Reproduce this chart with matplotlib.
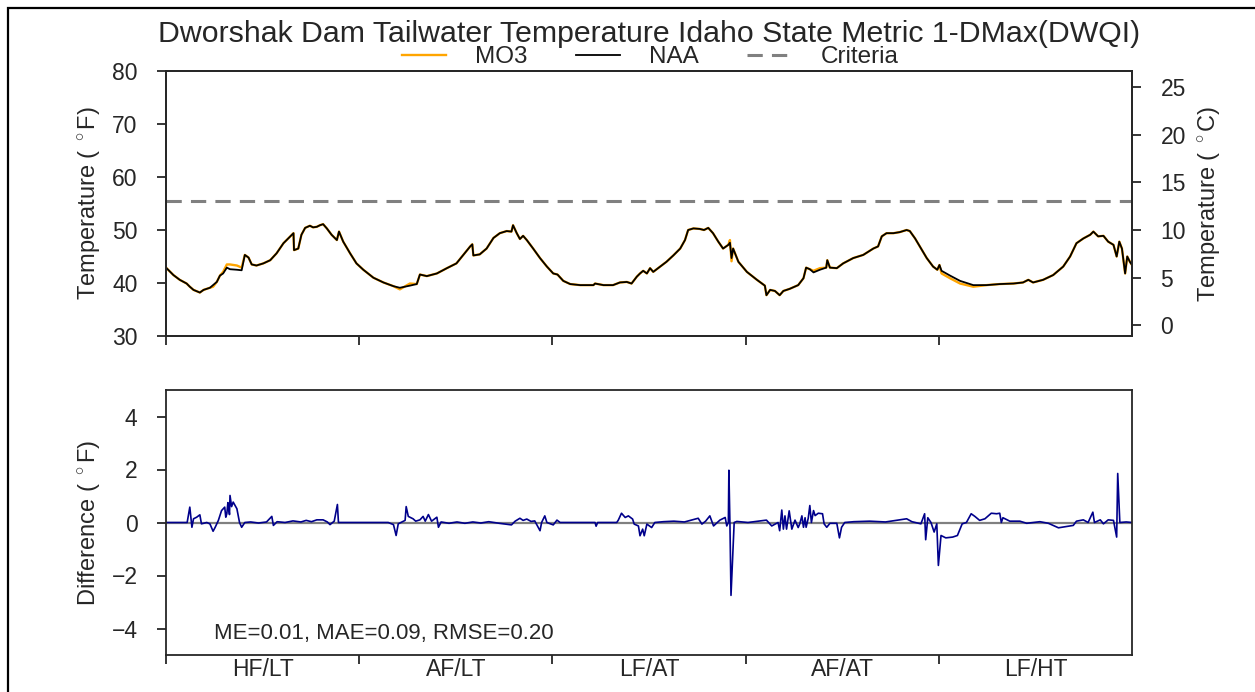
import numpy as np
import matplotlib
matplotlib.use('Agg')
import matplotlib.pyplot as plt
from matplotlib.patches import Rectangle

plt.rcParams['font.family'] = ['Liberation Sans', 'DejaVu Sans']
plt.rcParams['mathtext.fontset'] = 'custom'
plt.rcParams['mathtext.rm'] = 'Liberation Sans'
plt.rcParams['mathtext.it'] = 'Liberation Sans:italic'

TEXT = '#262626'

title = 'Dworshak Dam Tailwater Temperature Idaho State Metric 1-DMax(DWQI)'
period_labels = ['HF/LT', 'AF/LT', 'LF/AT', 'AF/AT', 'LF/HT']
total_days = 1826
criteria_f = 55.4
stats_text = 'ME=0.01, MAE=0.09, RMSE=0.20'

# NAA daily-max tailwater temperature (deg F)
naa_days = [0, 14, 26, 39, 45, 52, 64, 71, 83, 89, 96, 102, 108, 115, 121, 134, 143,
            149, 156, 162, 171, 184, 197, 209, 222, 231, 241, 242, 250, 256, 263, 272,
            278, 285, 291, 297, 304, 313, 323, 327, 335, 348, 360, 373, 392, 411, 430,
            442, 461, 474, 480, 493, 512, 531, 549, 562, 575, 579, 581, 593, 606, 619,
            631, 644, 653, 656, 663, 669, 675, 682, 694, 707, 720, 732, 740, 751, 764,
            783, 808, 811, 827, 845, 858, 871, 880, 890, 896, 902, 909, 915, 921, 934,
            946, 959, 972, 981, 987, 997, 1009, 1017, 1025, 1034, 1044, 1053, 1063,
            1066, 1069, 1072, 1082, 1098, 1117, 1132, 1135, 1142, 1151, 1160, 1167,
            1179, 1195, 1205, 1210, 1217, 1224, 1236, 1248, 1250, 1255, 1268, 1280,
            1299, 1318, 1337, 1346, 1353, 1362, 1375, 1387, 1400, 1406, 1416, 1425,
            1438, 1450, 1458, 1462, 1466, 1482, 1501, 1526, 1551, 1576, 1602, 1620,
            1630, 1639, 1658, 1677, 1696, 1709, 1721, 1734, 1747, 1753, 1762, 1772,
            1781, 1791, 1797, 1802, 1807, 1813, 1817, 1822, 1826]
naa_temp_f = [42.9, 41.5, 40.6, 39.9, 39.3, 38.7, 38.2, 38.7, 39.1, 39.6, 40.2, 41.4, 41.8,
              42.9, 42.6, 42.5, 42.4,
              45.3, 44.8, 43.5, 43.3, 43.7, 44.3, 45.6, 47.5, 48.4, 49.4, 46.2, 46.5, 49.1,
              50.4, 50.8, 50.5, 50.6, 50.9, 51.1, 50.3, 49.1, 48.1, 49.7, 47.8, 45.6, 43.7,
              42.5, 41.0, 40.1, 39.4, 39.1, 39.5, 39.8, 41.6, 41.3, 41.8, 42.8, 43.7, 45.3,
              46.9, 47.3, 45.2, 45.4, 46.5, 48.5, 49.4, 49.8, 49.7, 50.9, 49.4, 48.3, 48.9,
              48.1, 46.5, 44.7, 43.1, 41.8, 41.6, 40.4, 39.8, 39.6, 39.6, 39.9, 39.6, 39.6,
              40.1, 40.2, 39.9, 41.2, 41.8, 42.3, 41.8, 42.8, 42.1, 43.1, 44.0, 45.2, 46.5,
              48.1, 50.0, 50.3, 50.2, 50.0, 50.4, 49.4, 47.8, 46.5, 47.2, 47.6, 44.7, 46.5,
              44.0, 42.1, 40.6, 39.5, 37.7, 38.7, 38.5, 37.7, 38.5, 38.9, 39.6, 40.9, 42.9,
              42.6, 42.0, 42.5, 42.9, 44.3, 42.9, 42.8, 43.7, 44.7, 45.3, 46.5, 46.9, 48.8,
              49.4, 49.4, 49.6, 50.0, 49.8, 48.4, 46.9, 44.7, 43.1, 42.5, 43.4, 42.3, 41.4,
              40.4, 39.6, 39.6, 39.8, 39.9, 40.1, 40.6, 40.1, 40.6, 41.5, 43.1, 45.0, 47.5,
              48.4, 49.1, 49.7, 48.8, 48.9, 47.8, 47.2, 45.0, 47.8, 46.5, 41.8, 45.0, 44.0,
              43.4]

# visible MO3 departures from NAA in the upper panel (deg F)
mo3_dev_days = [89, 108, 115, 121, 134, 143, 442, 461, 1066, 1069, 1224, 1236,
                1466, 1482, 1501, 1526]
mo3_dev_f = [-0.3, 0.3, 0.6, 0.9, 0.8, 0.5, -0.3, 0.4, 0.5, -0.6, 0.3, 0.3,
             -0.5, -0.5, -0.5, -0.3]

# Difference (MO3 - NAA, deg F)
diff_days = [0, 40, 45, 49, 52, 58, 64, 67, 77, 83, 89, 93, 99, 105, 111, 113, 115, 117,
             118, 120, 121, 124, 127, 134, 139, 143, 149, 160, 175, 190, 200, 203, 210,
             225, 240, 255, 265, 275, 285, 297, 305, 310, 318, 324, 326, 329, 420, 430,
             435, 439, 452, 454, 458, 467, 472, 480, 486, 490, 496, 502, 512, 515, 520,
             535, 550, 565, 580, 595, 610, 630, 653, 660, 669, 675, 682, 690, 697, 707,
             710, 716, 720, 732, 739, 745, 811, 813, 816, 852, 855, 861, 868, 874, 882,
             885, 893, 896, 901, 904, 909, 918, 924, 940, 960, 980, 1006, 1013, 1020,
             1028, 1035, 1047, 1057, 1060, 1063, 1064, 1066, 1068, 1071, 1074, 1079,
             1100, 1135, 1145, 1157, 1160, 1164, 1167, 1170, 1173, 1178, 1183, 1189,
             1195, 1198, 1202, 1205, 1208, 1210, 1214, 1217, 1220, 1224, 1227, 1233,
             1241, 1244, 1249, 1255, 1268, 1273, 1277, 1283, 1300, 1330, 1360, 1400,
             1410, 1427, 1434, 1436, 1440, 1446, 1452, 1457, 1460, 1465, 1474, 1487,
             1496, 1505, 1513, 1522, 1529, 1538, 1548, 1560, 1570, 1576, 1579, 1582,
             1595, 1614, 1627, 1652, 1668, 1677, 1687, 1703, 1715, 1721, 1734, 1743,
             1752, 1755, 1766, 1772, 1781, 1791, 1797, 1799, 1803, 1815, 1826]
diff_f = [0, 0, 0.58, -0.18, 0.14, 0.2, 0.29, -0.05, 0.0, -0.05, -0.33, -0.18, 0.08, 0.45,
          0.58, 0.2, 0.33, 0.75, 0.64, 0.3, 1.02, 0.6, 0.77, 0.52, 0.0, -0.18, 0.0, 0.02,
          -0.02, 0.02, 0.23, -0.11, 0.03, 0.0, 0.06, 0.02, 0.08, 0.03, 0.1, 0.1, 0.02,
          -0.08, 0.05, 0.68, 0.0, 0.0, 0.0, -0.08, -0.49, -0.05, 0.08, 0.6, 0.23, 0.14,
          0.05, 0.1, 0.23, 0.05, 0.3, 0.05, 0.2, -0.18, 0.02, -0.03, 0.02, -0.03, 0.02,
          -0.02, 0.03, -0.03, -0.09, 0.05, 0.16, 0.08, 0.13, 0.04, 0.06, -0.31, 0.0, 0.25,
          0.0, -0.09, 0.09, 0.0, 0.0, -0.14, 0.0, 0.0, 0.09, 0.35, 0.19, 0.25, 0.13, -0.06,
          -0.13, -0.5, -0.25, -0.5, -0.06, -0.19, 0.0, 0.03, 0.05, 0.02, 0.16, -0.06, 0.05,
          0.25, -0.13, 0.09, 0.19, -0.13, 0.0, 1.97, -0.06, -2.75, -1.38, 0.0, 0.04, 0.0,
          0.09, -0.13, 0.0, -0.31, 0.47, -0.25, 0.25, -0.25, 0.44, -0.25, 0.09, -0.19,
          -0.05, 0.25, -0.18, 0.18, -0.18, 0.16, 0.64, 0.0, 0.45, 0.26, 0.35, 0.33, -0.05,
          -0.18, -0.03, -0.03, -0.58, -0.18, 0.0, 0.03, 0.05, 0.02, 0.14, 0.03, -0.05,
          0.33, -0.65, 0.18, 0.0, -0.36, -0.05, -1.62, -0.49, -0.58, -0.55, -0.49, -0.05,
          0.0, 0.33, 0.23, 0.08, 0.14, 0.35, 0.33, 0.35, 0.0, 0.18, 0.05, 0.05, -0.03,
          0.03, -0.03, -0.11, -0.2, -0.15, -0.11, 0.05, 0.1, 0.0, 0.39, 0.0, 0.1, -0.05,
          0.1, 0.08, -0.55, 1.85, 0.0, 0.02, 0.0]

naa = np.array(naa_temp_f, dtype=float)
mo3 = naa.copy()
for d, v in zip(mo3_dev_days, mo3_dev_f):
    mo3[naa_days.index(d)] += v

bounds = np.linspace(0, total_days, len(period_labels) + 1)
mids = (bounds[:-1] + bounds[1:]) / 2

fig = plt.figure(figsize=(12.55, 6.92), dpi=100)
W, H = 1255.0, 692.0
left, right = 166 / W, 1132 / W
ax1 = fig.add_axes([left, 1 - 336 / H, right - left, (336 - 71) / H])
ax2 = fig.add_axes([left, 1 - 655 / H, right - left, (655 - 390) / H])

FS = 16.5
LFS = 17
PAD = 14
for ax in (ax1, ax2):
    ax.set_xlim(0, total_days)
    for s in ax.spines.values():
        s.set_color(TEXT)
        s.set_linewidth(1.3)
    ax.tick_params(axis='both', which='major', direction='out', length=6.5, width=1.3,
                   color=TEXT, labelcolor=TEXT, labelsize=FS)
    ax.tick_params(axis='y', pad=PAD)
    ax.set_xticks(bounds[:-1])
    ax.set_xticklabels([])

# upper panel
l_mo3, = ax1.plot(naa_days, mo3, color='#FFA500', lw=1.7, label='MO3', zorder=2)
l_naa, = ax1.plot(naa_days, naa, color='black', lw=1.3, label='NAA', zorder=3)
l_cr = ax1.axhline(criteria_f, color='#808080', lw=2.2, ls=(0, (5, 3)), label='Criteria',
                   zorder=1)
ax1.set_ylim(30, 80)
ax1.set_yticks([30, 40, 50, 60, 70, 80])
ax1.set_ylabel(r'Temperature ( $^\circ$F)', fontsize=LFS, color=TEXT, labelpad=7)

ax1r = ax1.twinx()
ax1r.set_ylim((30 - 32) / 1.8, (80 - 32) / 1.8)
ax1r.set_yticks([0, 5, 10, 15, 20, 25])
ax1r.tick_params(axis='y', direction='out', length=6.5, width=1.3, color=TEXT,
                 labelcolor=TEXT, labelsize=FS, pad=PAD)
for s in ax1r.spines.values():
    s.set_color(TEXT)
    s.set_linewidth(1.3)
ax1r.set_ylabel(r'Temperature ( $^\circ$C)', fontsize=LFS, color=TEXT, labelpad=7)

# lower panel
ax2.axhline(0, color='#808080', lw=1.6, zorder=1)
ax2.plot(diff_days, diff_f, color='#00008B', lw=1.2, zorder=2)
ax2.set_ylim(-5, 5)
ax2.set_yticks([-4, -2, 0, 2, 4])
ax2.set_yticklabels(['\u22124', '\u22122', '0', '2', '4'])
ax2.set_ylabel(r'Difference ( $^\circ$F)', fontsize=LFS, color=TEXT, labelpad=7)
ax2.set_xticks(mids, minor=True)
ax2.set_xticklabels(period_labels, minor=True)
ax2.tick_params(axis='x', which='minor', length=0, labelsize=FS, labelcolor=TEXT, pad=2)
ax2.text(0.05, 0.083, stats_text, transform=ax2.transAxes, fontsize=16, color=TEXT,
         ha='left', va='center')

fig.text(0.517, 1 - 34 / H, title, ha='center', va='center', fontsize=21.8, color=TEXT)
fig.legend(handles=[l_mo3, l_naa, l_cr], loc='center', bbox_to_anchor=(0.518, 1 - 57 / H),
           ncol=3, frameon=False, fontsize=17.5, handlelength=1.8, handletextpad=1.2,
           columnspacing=2.0, labelcolor=TEXT, borderpad=0, borderaxespad=0)

fig.patches.append(Rectangle((8 / W, -0.05), 1.2, 1.05 - 8 / H, transform=fig.transFigure,
                             fill=False, edgecolor='black', lw=1.6, clip_on=False))

fig.savefig('out.png', dpi=100)
